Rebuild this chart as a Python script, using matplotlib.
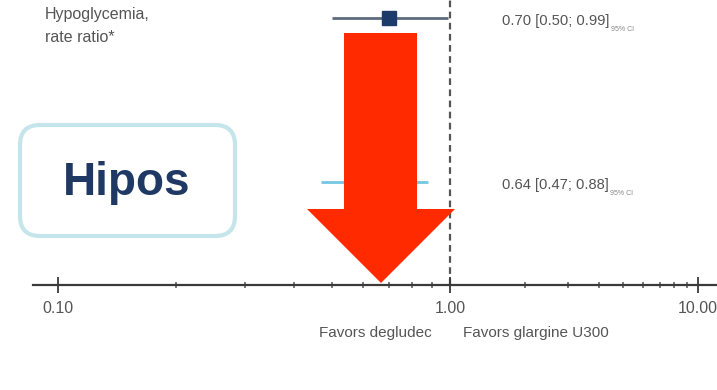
import numpy as np
import matplotlib
matplotlib.use('Agg')
from matplotlib import pyplot as plt
from matplotlib.patches import Polygon, FancyBboxPatch
from matplotlib.ticker import FixedLocator, FixedFormatter

# forest plot rows (rate ratio with 95% CI)
row_labels = ['Hypoglycemia,\nrate ratio*', '']
estimates = [0.70, 0.64]
ci_low = [0.50, 0.47]
ci_high = [0.99, 0.88]
row_colors = ['#5d6b80', '#74c6e4']
marker_colors = ['#1c3a6a', '#74c6e4']

major_ticks = [0.1, 1.0, 10.0]
major_labels = ['0.10', '1.00', '10.00']
minor_ticks = [0.2, 0.3, 0.4, 0.5, 0.6, 0.7, 0.8, 0.9, 2, 3, 4, 5, 6, 7, 8, 9]
favors_left = 'Favors degludec'
favors_right = 'Favors glargine U300'
badge_text = 'Hipos'

NARROW = ['Liberation Sans Narrow', 'Liberation Sans', 'DejaVu Sans']
GREY = '#555555'
W, H = 717, 390

# the right decade is squeezed compared to the left one in the original
K = 248 / 392


def fwd(x):
    x = np.asarray(x, dtype=float)
    with np.errstate(divide='ignore', invalid='ignore'):
        l = np.log10(np.where(x > 0, x, 1e-12))
    return np.where(l <= 0, l, l * K)


def inv(y):
    y = np.asarray(y, dtype=float)
    return np.where(y <= 0, 10.0 ** y, 10.0 ** (y / K))


def px_to_x(p):
    return float(inv((p - 58) / 392 - 1))


fig = plt.figure(figsize=(W / 100, H / 100), dpi=100)
axis_y = 285
ax = fig.add_axes([0, (H - axis_y) / H, 1, axis_y / H])
ax.set_xscale('function', functions=(fwd, inv))
ax.set_xlim(px_to_x(0), px_to_x(W))
row_step = 164
ax.set_ylim((axis_y - 18) / row_step, -18 / row_step)

for s in ['top', 'left', 'right']:
    ax.spines[s].set_visible(False)
ax.spines['bottom'].set_color('#3a3a3a')
ax.spines['bottom'].set_linewidth(1.6)
ax.spines['bottom'].set_bounds(px_to_x(33), px_to_x(W))
ax.set_yticks([])

ax.xaxis.set_major_locator(FixedLocator(major_ticks))
ax.xaxis.set_major_formatter(FixedFormatter(major_labels))
ax.xaxis.set_minor_locator(FixedLocator(minor_ticks))
ax.xaxis.set_minor_formatter(FixedFormatter([''] * len(minor_ticks)))
ax.tick_params(axis='x', which='major', direction='inout', length=11, width=1.3,
               color='#3a3a3a', pad=6, labelsize=11.5, labelcolor=GREY)
ax.tick_params(axis='x', which='minor', direction='inout', length=5, width=1.1,
               color='#555555')
for t in ax.get_xticklabels():
    t.set_family(NARROW)

ax.axvline(1.0, color='#555555', lw=1.6, ls=(0, (3, 2)), zorder=1)

text_shift = 3 / row_step
for i in range(len(estimates)):
    ax.plot([ci_low[i], ci_high[i]], [i, i], color=row_colors[i], lw=2, zorder=2,
            solid_capstyle='butt')
    ax.plot(estimates[i], i, marker='s', ms=10, color=marker_colors[i], zorder=3)
    txt = ax.text(502 / W, i + text_shift,
                  '%.2f [%.2f; %.2f]' % (estimates[i], ci_low[i], ci_high[i]),
                  transform=ax.get_yaxis_transform(), ha='left', va='center',
                  fontsize=10.6, color=GREY, family=NARROW)
    ax.annotate('95% CI', xy=(1, 0), xycoords=txt, xytext=(1, -1),
                textcoords='offset points', ha='left', va='center',
                fontsize=5, color='#888888', family=NARROW)

# row label (top-left)
lines = row_labels[0].split('\n')
fig.text(45 / W, 1 - 14 / H, lines[0], ha='left', va='center', fontsize=11.5,
         color=GREY, family=NARROW)
fig.text(45 / W, 1 - 38 / H, lines[1], ha='left', va='center', fontsize=11.5,
         color=GREY, family=NARROW)

fig.text(432 / W, 1 - 333 / H, favors_left, ha='right', va='center', fontsize=11,
         color=GREY, family=NARROW)
fig.text(463 / W, 1 - 333 / H, favors_right, ha='left', va='center', fontsize=11,
         color=GREY, family=NARROW)

# overlay: red arrow and the rounded badge (in pixel units, via inches)
def inch(p):
    return (p[0] / 100, (H - p[1]) / 100)


arrow_px = [(344, 33), (417, 33), (417, 209), (455, 209), (381, 283),
            (307, 209), (344, 209)]
fig.patches.append(Polygon([inch(p) for p in arrow_px], closed=True,
                           transform=fig.dpi_scale_trans, facecolor='#ff2a00',
                           edgecolor='none', zorder=5))

box = FancyBboxPatch((0.20, (H - 236) / 100), 2.15, 1.11,
                     boxstyle='round,pad=0,rounding_size=0.2',
                     transform=fig.dpi_scale_trans, facecolor='white',
                     edgecolor='#c4e5ea', linewidth=3, zorder=5)
fig.patches.append(box)
fig.text(127 / W, 1 - 183 / H, badge_text, ha='center', va='center',
         fontsize=33, fontweight='bold', color='#1f3864',
         family=['Liberation Sans', 'DejaVu Sans'], zorder=6)

fig.savefig('out.png', dpi=100)
